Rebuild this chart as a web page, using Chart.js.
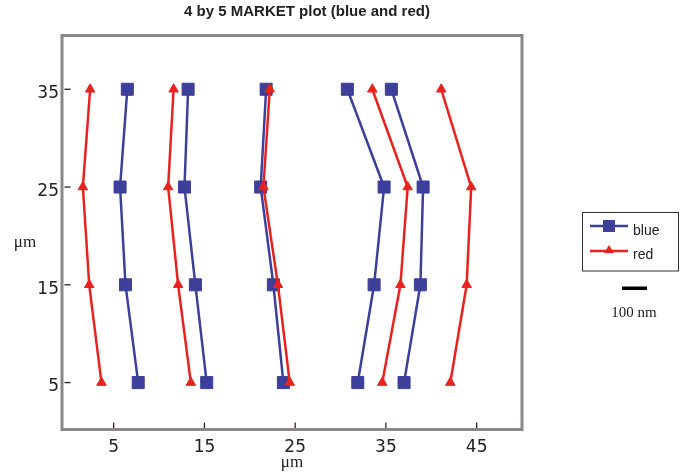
<!DOCTYPE html>
<html><head><meta charset="utf-8">
<script src="https://cdn.jsdelivr.net/npm/chart.js@4.4.1/dist/chart.umd.min.js"></script>
<style>html,body{margin:0;padding:0;background:#fff;}canvas{display:block;}</style>
</head><body>
<canvas id="c" width="684" height="472"></canvas>
<script>
const chartTitle = '4 by 5 MARKET plot (blue and red)';
const axisUnit = 'μm';
const scaleBarLabel = '100 nm';
const seriesNames = ['blue', 'red'];
const yLevels = [35, 25, 15, 5];
const xTickValues = [5, 15, 25, 35, 45];
const yTickValues = [5, 15, 25, 35];
// x positions of each line at y = 35, 25, 15, 5
const blue1 = [6.5, 5.7, 6.3, 7.7];
const blue2 = [13.2, 12.8, 14.0, 15.25];
const blue3 = [21.8, 21.2, 22.6, 23.7];
const blue4 = [30.75, 34.8, 33.7, 31.9];
const blue5 = [35.6, 39.1, 38.8, 37.0];
const red1 = [2.4, 1.6, 2.3, 3.65];
const red2 = [11.6, 11.0, 12.1, 13.5];
const red3 = [22.2, 21.5, 23.1, 24.4];
const red4 = [33.5, 37.4, 36.6, 34.6];
const red5 = [41.1, 44.4, 43.9, 42.1];

const BLUE = '#3d3f9b';
const RED = '#e8231f';
const FRAME = '#8a8787';

function makeDataset(label, xs, color, style, radius) {
  return {
    label: label,
    data: xs.map((x, i) => ({x: x, y: yLevels[i]})),
    showLine: true,
    borderColor: color,
    backgroundColor: color,
    borderWidth: 2.5,
    pointStyle: style,
    pointRadius: radius,
    pointHoverRadius: radius,
    pointBorderWidth: 1,
    tension: 0
  };
}

const redSets = [red1, red2, red3, red4, red5].map(a => makeDataset(seriesNames[1], a, RED, 'triangle', 5.5));
const blueSets = [blue1, blue2, blue3, blue4, blue5].map(a => makeDataset(seriesNames[0], a, BLUE, 'rect', 8.5));

const decor = {
  id: 'decor',
  afterDraw(chart) {
    const ctx = chart.ctx;
    const a = chart.chartArea;
    const xs = chart.scales.x, ys = chart.scales.y;
    ctx.save();
    // frame
    ctx.strokeStyle = FRAME;
    ctx.lineWidth = 3;
    ctx.strokeRect(a.left, a.top, a.right - a.left, a.bottom - a.top);
    // tick marks (inside)
    ctx.strokeStyle = '#222';
    ctx.lineWidth = 1.3;
    yTickValues.forEach(v => {
      const y = ys.getPixelForValue(v);
      ctx.beginPath(); ctx.moveTo(a.left + 2.5, y); ctx.lineTo(a.left + 8.5, y); ctx.stroke();
    });
    xTickValues.forEach(v => {
      const x = xs.getPixelForValue(v);
      ctx.beginPath(); ctx.moveTo(x, a.bottom - 7); ctx.lineTo(x, a.bottom - 1.5); ctx.stroke();
    });
    // title
    ctx.fillStyle = '#222';
    ctx.font = 'bold 15px "Liberation Sans", Arial, sans-serif';
    ctx.textAlign = 'center';
    ctx.textBaseline = 'middle';
    ctx.fillText(chartTitle, 307, 12);
    // axis titles
    ctx.font = '17px "Liberation Serif", "Times New Roman", serif';
    ctx.fillStyle = '#222';
    ctx.fillText(axisUnit, 25, 243);
    ctx.fillText(axisUnit, 292, 463);
    // legend box
    ctx.strokeStyle = '#333';
    ctx.lineWidth = 1;
    ctx.strokeRect(582.5, 212.5, 96, 58.5);
    // blue entry
    ctx.strokeStyle = BLUE; ctx.fillStyle = BLUE; ctx.lineWidth = 2.5;
    ctx.beginPath(); ctx.moveTo(590, 226); ctx.lineTo(628, 226); ctx.stroke();
    ctx.fillRect(603, 220, 12, 12);
    // red entry
    ctx.strokeStyle = RED; ctx.fillStyle = RED;
    ctx.beginPath(); ctx.moveTo(590, 251); ctx.lineTo(628, 251); ctx.stroke();
    ctx.beginPath(); ctx.moveTo(609, 245); ctx.lineTo(614, 253); ctx.lineTo(604, 253); ctx.closePath(); ctx.fill();
    ctx.fillStyle = '#222';
    ctx.font = '14px "Liberation Sans", Arial, sans-serif';
    ctx.textAlign = 'left';
    ctx.fillText(seriesNames[0], 633, 231);
    ctx.fillText(seriesNames[1], 633, 255);
    // scale bar
    ctx.fillStyle = '#000';
    ctx.fillRect(622, 286.5, 25, 3.5);
    ctx.fillStyle = '#222';
    ctx.textAlign = 'center';
    ctx.font = '15px "Liberation Serif", "Times New Roman", serif';
    ctx.fillText(scaleBarLabel, 634, 313);
    ctx.restore();
  }
};

new Chart(document.getElementById('c'), {
  type: 'scatter',
  data: { datasets: [...redSets, ...blueSets] },
  options: {
    responsive: false,
    animation: false,
    events: [],
    layout: { padding: { top: 35.5, right: 162, left: 0, bottom: 0 } },
    plugins: { legend: { display: false }, title: { display: false }, tooltip: { enabled: false } },
    scales: {
      x: {
        type: 'linear', min: -0.7, max: 50,
        afterBuildTicks: s => { s.ticks = xTickValues.map(v => ({value: v})); },
        afterFit: s => { s.height = 42.5; },
        grid: { display: false, drawTicks: false },
        border: { display: false },
        ticks: { color: '#222', padding: 8, font: { family: '"DejaVu Sans", Verdana, sans-serif', size: 17 } }
      },
      y: {
        type: 'linear', min: 0.2, max: 40.5,
        afterBuildTicks: s => { s.ticks = yTickValues.map(v => ({value: v})); },
        afterFit: s => { s.width = 62; },
        grid: { display: false, drawTicks: false },
        border: { display: false },
        ticks: { color: '#222', padding: 3, labelOffset: 4.5, font: { family: '"DejaVu Sans", Verdana, sans-serif', size: 17 } }
      }
    }
  },
  plugins: [decor]
});
</script>
</body></html>
